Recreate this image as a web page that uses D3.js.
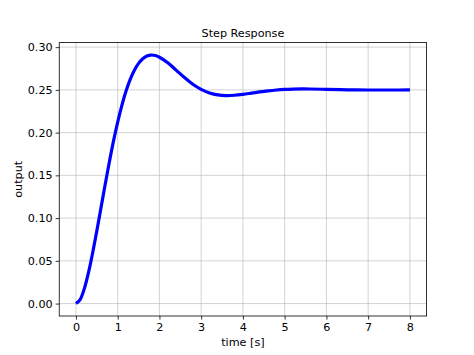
<!DOCTYPE html>
<html>
<head>
<meta charset="utf-8">
<script src="https://cdn.jsdelivr.net/npm/d3@7"></script>
<style>
  html, body { margin: 0; padding: 0; background: #fff; }
  svg { display: block; }
  text { font-family: "DejaVu Sans", sans-serif; fill: #000; }
</style>
</head>
<body>
<svg id="chart" width="474" height="355"></svg>
<script>
// ---- data ----
const timeValues = [0, 0.1, 0.2, 0.3, 0.4, 0.5, 0.6, 0.7, 0.8, 0.9, 1.0,
  1.1, 1.2, 1.3, 1.4, 1.5, 1.6, 1.7, 1.8, 1.9, 2.0, 2.2, 2.4, 2.6, 2.8,
  3.0, 3.2, 3.4, 3.6, 3.8, 4.0, 4.2, 4.4, 4.6, 4.8, 5.0, 5.2, 5.44, 5.6,
  6.0, 6.5, 7.0, 7.5, 8.0];
const outputValues = [0, 0.00467, 0.01736, 0.03615, 0.05926, 0.08508, 0.11216,
  0.13933, 0.16557, 0.19025, 0.21236, 0.23192, 0.24865, 0.26233, 0.27305,
  0.28101, 0.28643, 0.28966, 0.29075, 0.29017, 0.28817, 0.28171, 0.27310,
  0.26437, 0.25662, 0.25058, 0.24646, 0.24413, 0.24337, 0.24370, 0.24475,
  0.24614, 0.24757, 0.24884, 0.24985, 0.25054, 0.25094, 0.25108, 0.25103,
  0.25065, 0.25011, 0.24985, 0.24984, 0.24993];
const xTicks = [0, 1, 2, 3, 4, 5, 6, 7, 8];
const yTicks = [0.00, 0.05, 0.10, 0.15, 0.20, 0.25, 0.30];
const titleText = "Step Response";
const xLabelText = "time [s]";
const yLabelText = "output";

(function () {
  // ---- layout ----
  const plotL = 59.25, plotR = 426.6, plotT = 42.6, plotB = 316;
  const fs = 11.2;

  const svg = d3.select("#chart");

  const x = d3.scaleLinear().domain([-0.4, 8.4]).range([plotL, plotR]);
  const y = d3.scaleLinear().domain([-0.01454, 0.30530]).range([plotB, plotT]);

  // grid
  const grid = svg.append("g");
  grid.selectAll("line.vx").data(xTicks).join("line")
    .attr("x1", d => x(d)).attr("x2", d => x(d))
    .attr("y1", plotT).attr("y2", plotB)
    .attr("stroke", "#b0b0b0").attr("stroke-opacity", 0.7).attr("stroke-width", 0.8);
  grid.selectAll("line.hy").data(yTicks).join("line")
    .attr("x1", plotL).attr("x2", plotR)
    .attr("y1", d => y(d)).attr("y2", d => y(d))
    .attr("stroke", "#b0b0b0").attr("stroke-opacity", 0.7).attr("stroke-width", 0.8);

  // line
  const pts = timeValues.map((t, i) => [t, outputValues[i]]);
  svg.append("path")
    .datum(pts)
    .attr("fill", "none")
    .attr("stroke", "#0000ff")
    .attr("stroke-width", 3.2)
    .attr("stroke-linejoin", "round")
    .attr("d", d3.line().x(d => x(d[0])).y(d => y(d[1])).curve(d3.curveCatmullRom.alpha(0.5)));

  // axes
  const xAxis = d3.axisBottom(x).tickValues(xTicks).tickFormat(d3.format("d")).tickSizeOuter(0).tickSize(3.6).tickPadding(3);
  const yAxis = d3.axisLeft(y).tickValues(yTicks).tickFormat(d3.format(".2f")).tickSizeOuter(0).tickSize(3.6).tickPadding(3);

  const gx = svg.append("g").attr("transform", `translate(0,${plotB})`).call(xAxis);
  const gy = svg.append("g").attr("transform", `translate(${plotL},0)`).call(yAxis);
  [gx, gy].forEach(g => {
    g.select(".domain").remove();
    g.selectAll(".tick line").attr("stroke", "#000").attr("stroke-width", 0.8);
    g.selectAll(".tick text").attr("font-family", "DejaVu Sans").attr("font-size", fs).attr("fill", "#000");
  });

  // spines
  svg.append("rect")
    .attr("x", plotL).attr("y", plotT)
    .attr("width", plotR - plotL).attr("height", plotB - plotT)
    .attr("fill", "none").attr("stroke", "#000").attr("stroke-width", 0.8);

  // title & labels
  svg.append("text").attr("x", (plotL + plotR) / 2).attr("y", 37)
    .attr("text-anchor", "middle").attr("font-size", fs).text(titleText);
  svg.append("text").attr("x", (plotL + plotR) / 2).attr("y", 345.5)
    .attr("text-anchor", "middle").attr("font-size", fs).text(xLabelText);
  svg.append("text")
    .attr("transform", `translate(22,${(plotT + plotB) / 2}) rotate(-90)`)
    .attr("text-anchor", "middle").attr("font-size", fs).text(yLabelText);
})();
</script>
</body>
</html>
